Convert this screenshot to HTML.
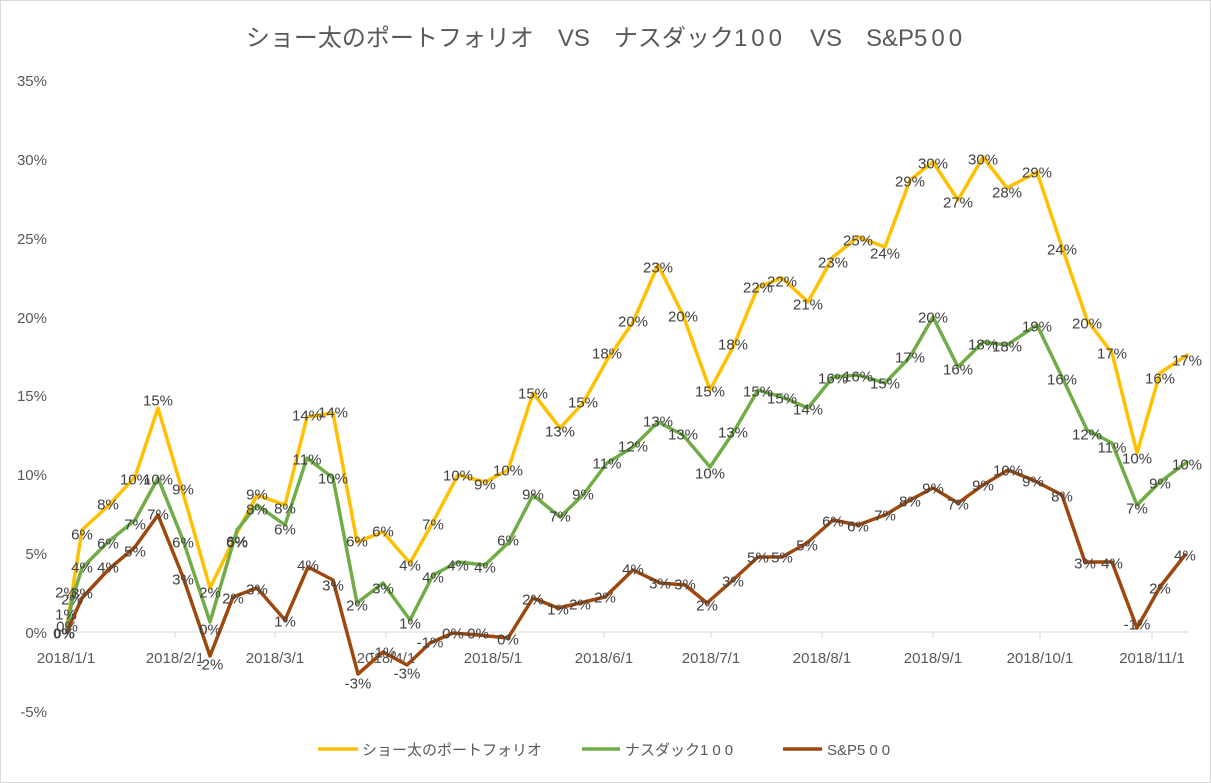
<!DOCTYPE html>
<html><head><meta charset="utf-8"><style>
html,body{margin:0;padding:0;background:#fff;}
svg{display:block;font-family:"Liberation Sans","Noto Sans CJK JP",sans-serif;}
.l text{font-size:15px;fill:#404040;text-anchor:middle;dominant-baseline:central;}
.ax{font-size:15px;fill:#595959;}
.w{letter-spacing:4px;}
</style></head><body>
<svg width="1211" height="783" viewBox="0 0 1211 783">
<rect x="0.5" y="0.5" width="1210" height="782" fill="#fff" stroke="#d9d9d9"/>
<text x="606" y="46" text-anchor="middle" font-size="24" fill="#595959">ショー太のポートフォリオ　VS　ナスダック<tspan class="w">100</tspan>　VS　S&amp;P<tspan class="w">500</tspan></text>
<g class="ax" text-anchor="end">
<text x="47" y="86">35%</text><text x="47" y="165">30%</text><text x="47" y="244">25%</text><text x="47" y="323">20%</text><text x="47" y="401">15%</text><text x="47" y="480">10%</text><text x="47" y="559">5%</text><text x="47" y="638">0%</text><text x="47" y="717">-5%</text>
</g>
<line x1="64" y1="632" x2="1188" y2="632" stroke="#d9d9d9" stroke-width="1"/>
<g stroke="#d9d9d9"><line x1="175" y1="632" x2="175" y2="638"/><line x1="275" y1="632" x2="275" y2="638"/><line x1="386" y1="632" x2="386" y2="638"/><line x1="493" y1="632" x2="493" y2="638"/><line x1="604" y1="632" x2="604" y2="638"/><line x1="711" y1="632" x2="711" y2="638"/><line x1="822" y1="632" x2="822" y2="638"/><line x1="933" y1="632" x2="933" y2="638"/><line x1="1040" y1="632" x2="1040" y2="638"/><line x1="1152" y1="632" x2="1152" y2="638"/></g>
<g class="ax" text-anchor="middle">
<text x="66" y="663">2018/1/1</text><text x="175" y="663">2018/2/1</text><text x="275" y="663">2018/3/1</text><text x="386" y="663">2018/4/1</text><text x="493" y="663">2018/5/1</text><text x="604" y="663">2018/6/1</text><text x="711" y="663">2018/7/1</text><text x="822" y="663">2018/8/1</text><text x="933" y="663">2018/9/1</text><text x="1040" y="663">2018/10/1</text><text x="1152" y="663">2018/11/1</text>
</g>
<g fill="none" stroke-width="3.5" stroke-linejoin="round" stroke-linecap="round">
<polyline stroke="#ffc000" points="67,627 72,593 82,530 108,506 135,477 158,408 183,493 210,588 237,533 257,495 285,505 307,417 333,413 357,542 383,532 410,563 433,522 458,475 485,482 508,470 533,393 560,428 583,403 607,360 633,322 658,265 683,315 710,390 733,347 758,287 782,278 808,302 833,257 858,237 885,247 910,180 933,162 958,200 983,157 1007,188 1037,172 1062,247 1087,320 1112,353 1137,453 1160,373 1187,355"/>
<polyline stroke="#70ad47" points="67,630 72,600 82,568 108,542 135,520 158,478 183,540 210,622 237,530 257,505 285,525 307,458 333,478 357,603 383,583 410,620 433,575 458,562 485,565 508,543 533,495 560,517 583,495 607,463 633,447 658,422 683,435 710,467 733,433 758,390 782,397 808,408 833,377 858,375 885,383 910,357 933,317 958,367 983,342 1007,345 1037,325 1062,377 1087,430 1112,443 1137,505 1160,482 1187,462"/>
<polyline stroke="#9e480e" points="67,632 72,620 82,598 108,570 135,547 158,515 183,577 210,656 233,597 257,588 285,620 308,567 333,580 358,674 383,652 407,665 430,643 453,633 478,635 508,638 533,598 558,608 580,603 605,597 633,570 660,583 685,585 707,603 733,580 758,557 782,557 807,543 833,520 858,525 885,515 910,500 933,488 958,503 983,485 1008,470 1033,480 1062,495 1085,562 1112,562 1137,628 1160,587 1185,555"/>
</g>
<g class="l">
<text x="67" y="627">0%</text><text x="66" y="593">2%</text><text x="82" y="535">6%</text><text x="108" y="505">8%</text><text x="135" y="480">10%</text><text x="158" y="401">15%</text><text x="183" y="490">9%</text><text x="210" y="593">2%</text><text x="237" y="543">6%</text><text x="257" y="495">9%</text><text x="285" y="509">8%</text><text x="307" y="416">14%</text><text x="333" y="413">14%</text><text x="357" y="542">6%</text><text x="383" y="532">6%</text><text x="410" y="566">4%</text><text x="433" y="525">7%</text><text x="458" y="476">10%</text><text x="485" y="485">9%</text><text x="508" y="471">10%</text><text x="533" y="394">15%</text><text x="560" y="432">13%</text><text x="583" y="403">15%</text><text x="607" y="354">18%</text><text x="633" y="322">20%</text><text x="658" y="268">23%</text><text x="683" y="317">20%</text><text x="710" y="392">15%</text><text x="733" y="345">18%</text><text x="758" y="288">22%</text><text x="782" y="282">22%</text><text x="808" y="305">21%</text><text x="833" y="263">23%</text><text x="858" y="241">25%</text><text x="885" y="254">24%</text><text x="910" y="182">29%</text><text x="933" y="164">30%</text><text x="958" y="203">27%</text><text x="983" y="160">30%</text><text x="1007" y="193">28%</text><text x="1037" y="173">29%</text><text x="1062" y="250">24%</text><text x="1087" y="324">20%</text><text x="1112" y="354">17%</text><text x="1137" y="459">10%</text><text x="1160" y="379">16%</text><text x="1187" y="361">17%</text>
<text x="72" y="600">2%</text><text x="82" y="568">4%</text><text x="108" y="544">6%</text><text x="135" y="525">7%</text><text x="158" y="480">10%</text><text x="183" y="543">6%</text><text x="210" y="630">0%</text><text x="237" y="542">6%</text><text x="257" y="510">8%</text><text x="285" y="530">6%</text><text x="307" y="460">11%</text><text x="333" y="479">10%</text><text x="357" y="606">2%</text><text x="383" y="589">3%</text><text x="410" y="624">1%</text><text x="433" y="578">4%</text><text x="458" y="566">4%</text><text x="485" y="568">4%</text><text x="508" y="541">6%</text><text x="533" y="495">9%</text><text x="560" y="517">7%</text><text x="583" y="495">9%</text><text x="607" y="464">11%</text><text x="633" y="447">12%</text><text x="658" y="422">13%</text><text x="683" y="435">13%</text><text x="710" y="474">10%</text><text x="733" y="433">13%</text><text x="758" y="392">15%</text><text x="782" y="399">15%</text><text x="808" y="410">14%</text><text x="833" y="379">16%</text><text x="858" y="377">16%</text><text x="885" y="384">15%</text><text x="910" y="358">17%</text><text x="933" y="318">20%</text><text x="958" y="370">16%</text><text x="983" y="345">18%</text><text x="1007" y="347">18%</text><text x="1037" y="327">19%</text><text x="1062" y="380">16%</text><text x="1087" y="435">12%</text><text x="1112" y="448">11%</text><text x="1137" y="509">7%</text><text x="1160" y="484">9%</text><text x="1187" y="465">10%</text>
<text x="66" y="615">1%</text><text x="82" y="594">3%</text><text x="108" y="568">4%</text><text x="135" y="552">5%</text><text x="158" y="515">7%</text><text x="183" y="580">3%</text><text x="210" y="665">-2%</text><text x="233" y="599">2%</text><text x="257" y="590">3%</text><text x="285" y="622">1%</text><text x="308" y="566">4%</text><text x="333" y="586">3%</text><text x="358" y="684">-3%</text><text x="383" y="653">-1%</text><text x="407" y="674">-3%</text><text x="430" y="643">-1%</text><text x="453" y="634">0%</text><text x="478" y="634">0%</text><text x="508" y="640">0%</text><text x="533" y="600">2%</text><text x="558" y="610">1%</text><text x="580" y="605">2%</text><text x="605" y="598">2%</text><text x="633" y="570">4%</text><text x="660" y="584">3%</text><text x="685" y="585">3%</text><text x="707" y="606">2%</text><text x="733" y="582">3%</text><text x="758" y="558">5%</text><text x="782" y="558">5%</text><text x="807" y="546">5%</text><text x="833" y="522">6%</text><text x="858" y="527">6%</text><text x="885" y="516">7%</text><text x="910" y="502">8%</text><text x="933" y="489">9%</text><text x="958" y="505">7%</text><text x="983" y="486">9%</text><text x="1008" y="471">10%</text><text x="1033" y="482">9%</text><text x="1062" y="497">8%</text><text x="1085" y="564">3%</text><text x="1112" y="564">4%</text><text x="1137" y="625">-1%</text><text x="1160" y="589">2%</text><text x="1185" y="556">4%</text>
<text x="64" y="634" font-weight="bold">0%</text>
</g>
<g font-size="15" fill="#595959">
<line x1="318" y1="749" x2="358" y2="749" stroke="#ffc000" stroke-width="3.5"/><text x="362" y="755">ショー太のポートフォリオ</text>
<line x1="582" y1="749" x2="620" y2="749" stroke="#70ad47" stroke-width="3.5"/><text x="625" y="755">ナスダック<tspan class="w">100</tspan></text>
<line x1="783" y1="749" x2="822" y2="749" stroke="#9e480e" stroke-width="3.5"/><text x="827" y="755">S&amp;P<tspan class="w">500</tspan></text>
</g>
</svg>
</body></html>
